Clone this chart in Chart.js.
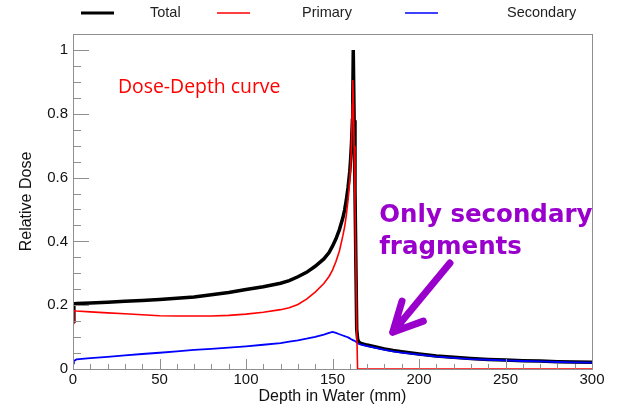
<!DOCTYPE html>
<html>
<head>
<meta charset="utf-8">
<script src="https://cdn.jsdelivr.net/npm/chart.js@4"></script>
<style>
  body { margin: 0; background: #fff; }
  #wrap { width: 617px; height: 410px; position: relative; }
</style>
</head>
<body>
<div id="wrap"><canvas id="doseChart"></canvas></div>
<script>
// depth in water (mm), shared by all three curves
const DEPTH = [0, 0.5, 2, 10, 20, 30, 40, 50, 60, 70,
  80, 90, 100, 110, 120, 125, 130, 135, 140, 145,
  148, 150, 152, 154, 156, 157, 158, 159, 160, 160.5,
  161, 161.5, 161.75, 162, 162.5, 163, 163.5, 164, 164.5, 165,
  166, 170, 175, 180, 185, 190, 200, 210, 220, 230,
  240, 250, 260, 270, 280, 290, 300];

const TOTAL = [0.150, 0.204, 0.205, 0.207, 0.209, 0.212, 0.215, 0.218, 0.222, 0.226,
  0.233, 0.240, 0.249, 0.258, 0.269, 0.277, 0.289, 0.303, 0.322, 0.345,
  0.365, 0.385, 0.408, 0.437, 0.474, 0.498, 0.530, 0.570, 0.620, 0.660,
  0.710, 0.780, 0.860, 1.000, 0.780, 0.560, 0.340, 0.125, 0.095, 0.086,
  0.081, 0.075, 0.069, 0.063, 0.058, 0.054, 0.047, 0.041, 0.037, 0.033,
  0.030, 0.028, 0.026, 0.025, 0.023, 0.022, 0.021];

const PRIMARY = [0.143, 0.183, 0.182, 0.179, 0.176, 0.173, 0.170, 0.167, 0.166, 0.166,
  0.166, 0.168, 0.172, 0.178, 0.186, 0.192, 0.202, 0.219, 0.241, 0.268,
  0.290, 0.310, 0.337, 0.370, 0.418, 0.445, 0.482, 0.530, 0.590, 0.640,
  0.715, 0.830, 0.906, 0.860, 0.700, 0.520, 0.330, 0.120, 0, 0,
  0, 0, 0, 0, 0, 0, 0, 0, 0, 0,
  0, 0, 0, 0, 0, 0, 0];

const SECONDARY = [0.018, 0.025, 0.030, 0.034, 0.038, 0.043, 0.047, 0.051, 0.055, 0.060,
  0.063, 0.067, 0.071, 0.076, 0.081, 0.086, 0.090, 0.095, 0.101, 0.108,
  0.113, 0.116, 0.113, 0.109, 0.105, 0.103, 0.101, 0.099, 0.096, 0.094,
  0.093, 0.091, 0.091, 0.090, 0.089, 0.088, 0.086, 0.083, 0.081, 0.079,
  0.077, 0.072, 0.066, 0.060, 0.055, 0.051, 0.045, 0.039, 0.035, 0.031,
  0.029, 0.027, 0.025, 0.024, 0.022, 0.021, 0.020];

const SERIES_LABELS = ["Total", "Primary", "Secondary"];
const X_TICKS = [0, 50, 100, 150, 200, 250, 300];
const Y_TICKS = [0, 0.2, 0.4, 0.6, 0.8, 1];

const AXIS_GRAY = "#8f8f8f";
const FONT = "'Liberation Sans', Arial, sans-serif";

function toPoints(values) {
  return DEPTH.map((x, i) => ({ x: x, y: values[i] }));
}

// frame around the plot plus ROOT-style inner tick marks
const frameTicks = {
  id: "frameTicks",
  afterDatasetsDraw(chart) {
    const { ctx, chartArea: a, scales } = chart;
    ctx.save();
    ctx.strokeStyle = AXIS_GRAY;
    ctx.lineWidth = 1;
    ctx.strokeRect(a.left + 0.5, a.top + 0.5, a.right - a.left, a.bottom - a.top);

    ctx.beginPath();
    for (let v = 0; v <= 300; v += 10) {
      const px = Math.round(scales.x.getPixelForValue(v)) + 0.5;
      const len = v % 50 === 0 ? 10 : 5;
      ctx.moveTo(px, a.bottom);
      ctx.lineTo(px, a.bottom - len);
    }
    for (let i = 0; i <= 21; i++) {
      const v = i * 0.05;
      const py = Math.round(scales.y.getPixelForValue(v)) + 0.5;
      const len = i % 4 === 0 ? 16 : 8;
      ctx.moveTo(a.left, py);
      ctx.lineTo(a.left + len, py);
    }
    ctx.stroke();
    ctx.restore();
  },
};

// legend row at the top and the text annotations
const extras = {
  id: "extras",
  afterDraw(chart) {
    const { ctx, scales } = chart;
    const sx = (v) => scales.x.getPixelForValue(v);
    const sy = (v) => scales.y.getPixelForValue(v);
    ctx.save();

    // legend
    const lineX = [81, 217, 405];
    const textX = [150, 302, 507];
    ctx.font = "14.5px " + FONT;
    ctx.textBaseline = "middle";
    chart.data.datasets.forEach((ds, i) => {
      ctx.strokeStyle = ds.borderColor;
      ctx.lineWidth = i === 0 ? 3 : 1.5;
      ctx.beginPath();
      ctx.moveTo(lineX[i], 13);
      ctx.lineTo(lineX[i] + 33, 13);
      ctx.stroke();
      ctx.fillStyle = "#222";
      ctx.fillText(SERIES_LABELS[i], textX[i], 13);
    });

    // red caption
    ctx.textBaseline = "alphabetic";
    ctx.fillStyle = "#ff0000";
    ctx.font = "19.4px 'Open Sans', sans-serif";
    ctx.fillText("Dose-Depth curve", sx(26), sy(0.865));

    // purple note + arrow
    ctx.fillStyle = "#9900cc";
    ctx.font = "bold 24.5px 'DejaVu Sans', sans-serif";
    ctx.fillText("Only secondary", sx(177), sy(0.461));
    ctx.fillText("fragments", sx(177), sy(0.361));

    ctx.strokeStyle = "#9900cc";
    ctx.lineWidth = 7;
    ctx.lineCap = "round";
    ctx.lineJoin = "round";
    ctx.beginPath();
    ctx.moveTo(sx(217.9), sy(0.332));
    ctx.lineTo(sx(184.8), sy(0.115));
    ctx.moveTo(sx(190.2), sy(0.213));
    ctx.lineTo(sx(184.8), sy(0.115));
    ctx.lineTo(sx(202.5), sy(0.150));
    ctx.stroke();
    ctx.restore();
  },
};

new Chart(document.getElementById("doseChart").getContext("2d"), {
  type: "line",
  data: {
    datasets: [
      {
        label: SERIES_LABELS[0],
        data: toPoints(TOTAL),
        borderColor: "#000000",
        borderWidth: 3.5,
        order: 3,
      },
      {
        label: SERIES_LABELS[1],
        data: toPoints(PRIMARY),
        borderColor: "#ff0000",
        borderWidth: 1.6,
        order: 1,
      },
      {
        label: SERIES_LABELS[2],
        data: toPoints(SECONDARY),
        borderColor: "#0000ff",
        borderWidth: 1.8,
        order: 2,
      },
    ],
  },
  options: {
    responsive: true,
    maintainAspectRatio: false,
    animation: false,
    layout: { padding: { top: 34, right: 25, left: 0, bottom: 0 } },
    elements: {
      point: { radius: 0 },
      line: { tension: 0, fill: false },
    },
    plugins: {
      legend: { display: false },
      tooltip: { enabled: false },
    },
    scales: {
      x: {
        type: "linear",
        min: 0,
        max: 300,
        afterBuildTicks: (s) => { s.ticks = X_TICKS.map((v) => ({ value: v })); },
        afterFit: (s) => { s.height = 41; },
        grid: { display: false, drawTicks: false },
        border: { display: false },
        ticks: { padding: 2, color: "#111", font: { family: FONT, size: 15 } },
        title: {
          display: true,
          text: "Depth in Water (mm)",
          color: "#111",
          font: { family: FONT, size: 16 },
          padding: { top: 0, bottom: 4 },
        },
      },
      y: {
        type: "linear",
        min: 0,
        max: 1.05,
        afterBuildTicks: (s) => { s.ticks = Y_TICKS.map((v) => ({ value: v })); },
        afterFit: (s) => { s.width = 73; },
        grid: { display: false, drawTicks: false },
        border: { display: false },
        ticks: {
          padding: 5,
          color: "#111",
          font: { family: FONT, size: 15 },
          callback: (v) => String(Math.round(v * 100) / 100),
        },
        title: {
          display: true,
          text: "Relative Dose",
          color: "#111",
          font: { family: FONT, size: 16 },
          padding: { top: 17, bottom: 0 },
        },
      },
    },
  },
  plugins: [frameTicks, extras],
});
</script>
</body>
</html>
